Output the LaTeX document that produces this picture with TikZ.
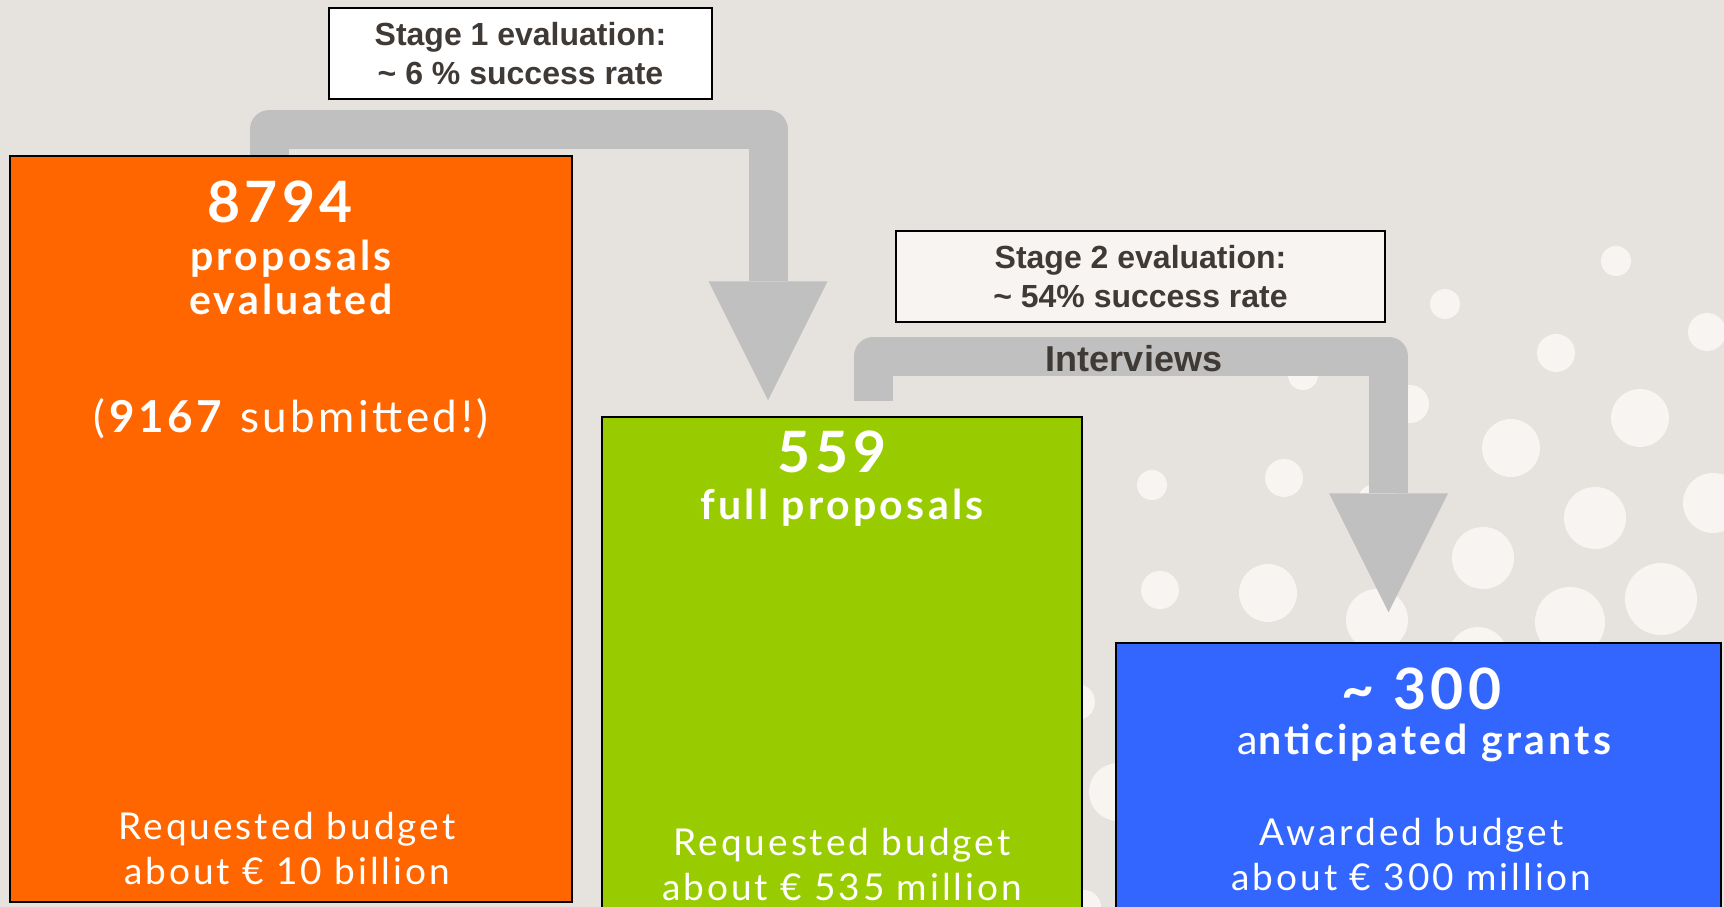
\documentclass[tikz,border=0pt]{standalone}
\usepackage{fontspec}
\setmainfont{Liberation Sans}
\newfontfamily\boxfont[LetterSpace=8]{Lato}
\usetikzlibrary{arrows.meta, positioning}

\definecolor{paper}{HTML}{E6E2DE}
\definecolor{dot}{HTML}{F7F4F2}
\definecolor{ercorange}{HTML}{FF6600}
\definecolor{ercgreen}{HTML}{99CC00}
\definecolor{ercblue}{HTML}{3366FF}
\definecolor{flow}{HTML}{C0C0C0}
\definecolor{ink}{HTML}{403A36}

\tikzset{
    bar/.style={draw=black, line width=1.5pt, inner sep=0pt},
    stagebox/.style={draw=black, line width=2pt, fill=white, minimum width=383pt,
        minimum height=91pt, align=center, text=ink,
        font=\bfseries\fontsize{32}{39}\selectfont},
    flowarrow/.style={draw=flow, line width=39pt, line join=round,
        -{Triangle[width=119pt, length=119pt, line width=0pt]}},
    bignum/.style={text=white, align=center, font=\boxfont\bfseries\fontsize{57}{60}\selectfont},
    caption/.style={text=white, align=center, font=\boxfont\bfseries\fontsize{41}{44}\selectfont},
    submitted/.style={text=white, align=center, font=\boxfont\fontsize{44}{46}\selectfont},
    budget/.style={text=white, align=center, font=\boxfont\fontsize{37}{45}\selectfont}
}

\begin{document}
\begin{tikzpicture}[x=1pt, y=-1pt]
\fill[paper] (0,0) rectangle (1724,907);
\useasboundingbox (0,0) rectangle (1724,907);

% dots in the background
\foreach \x/\y/\r in {1616/261/15, 1445/304/15, 1556/353/19, 1707/332/19, 1303/375/15,
    1410/404/19, 1511/448/29, 1640/418/29, 1284/478/19, 1152/485/15, 1713/503/30,
    1595/518/31, 1483/558/31, 1160/590/19, 1268/593/29, 1377/620/31, 1570/622/35,
    1661/599/36, 1478/657/30, 1378/505/22, 1077/702/18, 1118/792/29, 1084/907/17}
    \fill[dot] (\x,\y) circle[radius=\r];

% the three stages
\node[bar, fill=ercorange, minimum width=562pt, minimum height=746pt] (eval) at (291,529) {};
\node[bar, fill=ercgreen, minimum width=480pt, minimum height=500pt] (full) at (842,667) {};
\node[bar, fill=ercblue, minimum width=605pt, minimum height=280pt] (grants) at (1418.5,783) {};

\node[bignum] (evalnum) at ([xshift=-11pt, yshift=-47pt]eval.north) {8794};
\node[caption] (evalcap) at ([yshift=-122pt]eval.north) {proposals\\evaluated};
\node[submitted] (evalsub) at ([yshift=-263pt]eval.north) {(\textbf{9167} submitted!)};
\node[budget] (evalbudget) at ([xshift=-4pt, yshift=54.5pt]eval.south) {Requested budget\\about € 10 billion};

\node[bignum] (fullnum) at ([xshift=-10pt, yshift=-36pt]full.north) {559};
\node[caption] (fullcap) at ([yshift=-91pt]full.north) {full proposals};
\node[budget] (fullbudget) at ([yshift=-448pt]full.north) {Requested budget\\about € 535 million};

\node[bignum] (grantsnum) at ([xshift=3pt, yshift=-47pt]grants.north) {\textasciitilde{} 300};
\node[caption] (grantscap) at ([xshift=6pt, yshift=-101pt]grants.north) {{\mdseries a}nticipated grants};
\node[budget] (grantsbudget) at ([xshift=-7pt, yshift=-212pt]grants.north) {Awarded budget\\about € 300 million};

% evaluation steps
\node[stagebox] (stageone) at (520.5,53.5) {Stage 1 evaluation:\\\textasciitilde{} 6 \% success rate};
\node[stagebox, fill=dot, minimum width=489pt] (stagetwo) at (1140.5,276.5) {Stage 2 evaluation:\\\textasciitilde{} 54\% success rate};

\coordinate (bendone) at (269.5,129);
\coordinate (tipone) at ([xshift=-74pt, yshift=16pt]full.north);
\draw[flowarrow] (eval.north -| bendone) -- (bendone) -| (tipone);

\coordinate (starttwo) at ([yshift=15pt]full.north);
\coordinate (bendtwo) at (873.5,356);
\coordinate (tiptwo) at ([xshift=-30pt, yshift=30pt]grants.north);
\draw[flowarrow] (starttwo -| bendtwo) -- (bendtwo)
    -- node[xshift=3pt, yshift=-3pt, text=ink, font=\bfseries\fontsize{36}{40}\selectfont] (interviews) {Interviews}
    (bendtwo -| tiptwo) -- (tiptwo);
\end{tikzpicture}
\end{document}
